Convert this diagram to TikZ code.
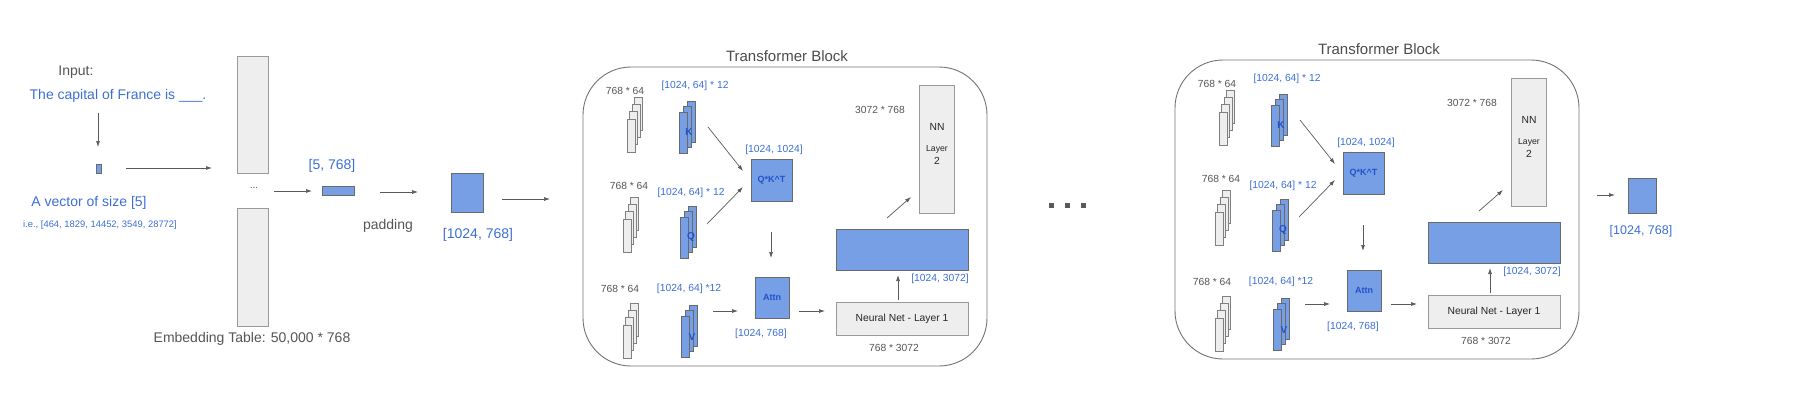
\documentclass[tikz,border=0pt]{standalone}
\usepackage{fontspec}
\setmainfont{Liberation Sans}
\usetikzlibrary{arrows.meta}
\definecolor{boxblue}{HTML}{779FE5}
\definecolor{txtblue}{HTML}{3C6FD6}
\definecolor{darkblue}{HTML}{2152C9}
\definecolor{boxgray}{HTML}{EEEEEE}
\definecolor{edgegray}{HTML}{9A9A9A}
\definecolor{edgedark}{HTML}{6A6A6A}
\definecolor{txtgray}{HTML}{555555}
\definecolor{arrgray}{HTML}{5A5A5A}
\newcommand\fs[1]{\fontsize{#1}{#1}\selectfont}
\tikzset{
 bbox/.style={draw=edgedark, fill=boxblue, line width=0.8pt, inner sep=0pt, outer sep=0pt},
 gbox/.style={draw=edgegray, fill=boxgray, line width=0.8pt, inner sep=0pt, outer sep=0pt},
 sbox/.style={draw=edgedark!85, fill=boxgray, line width=0.8pt, inner sep=0pt, outer sep=0pt},
 arr/.style={draw=arrgray, line width=0.7pt, -{Latex[length=6pt,width=4pt]}},
 tb/.style={text=txtblue, inner sep=0pt},
 tg/.style={text=txtgray, inner sep=0pt},
 tk/.style={text=black!85, inner sep=0pt},
 tdb/.style={text=darkblue, inner sep=0pt, font=\bfseries\fs{9}},
 tlet/.style={text=darkblue, inner sep=0pt, font=\bfseries\fs{10}},
 frame/.style={draw=black!55, line width=0.9pt, rounded corners=48pt, inner sep=0pt, minimum width=404, minimum height=299},
 sq/.style={fill=arrgray, inner sep=0pt, minimum width=5, minimum height=5},
}
% gray stack: name, front-left x, front-top y
\newcommand\gstack[3]{\foreach \j in {3,2,1,0}{\node[sbox, minimum width=8, minimum height=33, anchor=north west] (#1\j) at ({#2+2.6*\j},{#3-7.3*\j}) {};}}
% blue stack
\newcommand\bstack[3]{\foreach \j in {2,1,0}{\node[bbox, minimum width=8, minimum height=41, anchor=north west] (#1\j) at ({#2+4*\j},{#3-5.5*\j}) {};}}
\newcommand\tblock[1]{%
 \node[frame] (#1frame) at (785,216.5) {};
 \node[tg, text=black!70, font=\fs{15}] (#1title) at (787,56) {Transformer Block};
 % K row
 \node[tg,font=\fs{10.3}] (#1kw) at (625,91) {768 * 64};
 \gstack{#1kg}{627}{119}
 \node[tb,font=\fs{10.3}] (#1kd) at (695,86) {[1024, 64] * 12};
 \bstack{#1kb}{679}{112}
 \node[tlet] (#1kl) at (689,132) {K};
 % Q row
 \node[tg,font=\fs{10.3}] (#1qw) at (629,186) {768 * 64};
 \gstack{#1qg}{623}{219}
 \node[tb,font=\fs{10.3}] (#1qd) at (691,193) {[1024, 64] * 12};
 \bstack{#1qb}{680}{217}
 \node[tlet] (#1ql) at (691,237) {Q};
 % V row
 \node[tg,font=\fs{10.3}] (#1vw) at (620,289) {768 * 64};
 \gstack{#1vg}{623}{325}
 \node[tb,font=\fs{10.3}] (#1vd) at (689,289) {[1024, 64] *12};
 \bstack{#1vb}{681}{316}
 \node[tlet] (#1vl) at (692,337) {V};
 % QK^T
 \node[bbox, minimum width=41, minimum height=42] (#1qkt) at (771.5,180) {};
 \node[tdb] (#1qktl) at (771.5,180) {Q*K\textasciicircum T};
 \node[tb,font=\fs{10.3}] (#1qktd) at (774,150) {[1024, 1024]};
 % Attn
 \node[bbox, minimum width=34, minimum height=41] (#1attn) at (772,297.5) {};
 \node[tdb] (#1attnl) at (772,297.5) {Attn};
 \node[tb,font=\fs{10.3}] (#1attnd) at (761,334) {[1024, 768]};
 % NN layer 1
 \node[gbox, minimum width=132, minimum height=33] (#1nn1) at (902,318.5) {};
 \node[tk,font=\fs{10.3}] (#1nn1l) at (902,319) {Neural Net - Layer 1};
 \node[tg,font=\fs{10.3}] (#1nn1d) at (894,348) {768 * 3072};
 % hidden
 \node[bbox, minimum width=132, minimum height=41] (#1hid) at (902,249.5) {};
 \node[tb,font=\fs{10.3}] (#1hidd) at (940,279) {[1024, 3072]};
 % NN layer 2
 \node[gbox, minimum width=35, minimum height=128] (#1nn2) at (936.5,149) {};
 \node[tk,font=\fs{10.3}] (#1nn2a) at (937,127) {NN};
 \node[tk,font=\fs{8.7}] (#1nn2b) at (937,149) {Layer};
 \node[tk,font=\fs{10.3}] (#1nn2c) at (937,161) {2};
 \node[tg,font=\fs{10.3}] (#1nn2d) at (880,110) {3072 * 768};
 % arrows
 \coordinate (#1a1s) at (708,127); \coordinate (#1a1e) at (743,171);
 \coordinate (#1a2s) at (707,224); \coordinate (#1a2e) at (743,187);
 \coordinate (#1a3s) at (771,232); \coordinate (#1a3e) at (771,258);
 \coordinate (#1a4s) at (713,311); \coordinate (#1a4e) at (738,311);
 \coordinate (#1a5s) at (799,311); \coordinate (#1a5e) at (825,311);
 \coordinate (#1a6s) at (898,300); \coordinate (#1a6e) at (898,275);
 \coordinate (#1a7s) at (887,218); \coordinate (#1a7e) at (911,197);
 \draw[arr] (#1a1s) -- (#1a1e);
 \draw[arr] (#1a2s) -- (#1a2e);
 \draw[arr] (#1a3s) -- (#1a3e);
 \draw[arr] (#1a4s) -- (#1a4e);
 \draw[arr] (#1a5s) -- (#1a5e);
 \draw[arr] (#1a6s) -- (#1a6e);
 \draw[arr] (#1a7s) -- (#1a7e);
}
\begin{document}
\begin{tikzpicture}[x=1pt,y=-1pt]
\useasboundingbox (0,0) rectangle (1812,416);
% input part
\node[tg,font=\fs{14}] (inp) at (76,72) {Input:};
\node[tb,font=\fs{14}] (sent) at (118,96) {The capital of France is \_\_\_.};
\coordinate (s1) at (98,113); \coordinate (e1) at (98,147);
\draw[arr] (s1) -- (e1);
\node[bbox, minimum width=5, minimum height=9] (vec) at (98.5,168.5) {};
\node[tb,font=\fs{14}] (vecl) at (89,203) {A vector of size [5]};
\node[tb,font=\fs{9.4}] (vece) at (100,225) {i.e., [464, 1829, 14452, 3549, 28772]};
\coordinate (s2) at (126,168); \coordinate (e2) at (212,168);
\draw[arr] (s2) -- (e2);
% embedding table
\node[gbox, minimum width=31, minimum height=117] (embt) at (252.5,114.5) {};
\node[gbox, minimum width=31, minimum height=118] (embb) at (252.5,267) {};
\node[tg,font=\fs{10}] (embd) at (254,188) {...};
\node[tg,font=\fs{14}] (embl) at (252,339) {Embedding Table: 50,000 * 768};
\coordinate (s3) at (274,191); \coordinate (e3) at (312,191);
\draw[arr] (s3) -- (e3);
\node[tb,font=\fs{14}] (e5l) at (332,166) {[5, 768]};
\node[bbox, minimum width=32, minimum height=9] (e5) at (338,190.5) {};
\coordinate (s4) at (380,192); \coordinate (e4) at (418,192);
\draw[arr] (s4) -- (e4);
\node[tg,font=\fs{14}] (pad) at (388,226) {padding};
\node[bbox, minimum width=32, minimum height=39] (padded) at (467,192.5) {};
\node[tb,font=\fs{14}] (paddedl) at (478,235) {[1024, 768]};
\coordinate (s5) at (502,199); \coordinate (e5e) at (550,199);
\draw[arr] (s5) -- (e5e);
% block 1
\tblock{A}
% dots
\node[sq] (d1) at (1051.5,205.5) {};
\node[sq] (d2) at (1067.5,205.5) {};
\node[sq] (d3) at (1083.5,205.5) {};
% block 2
\begin{scope}[shift={(592,-7)}]
\tblock{B}
\end{scope}
% output
\coordinate (s6) at (1597,195); \coordinate (e6) at (1615,195);
\draw[arr] (s6) -- (e6);
\node[bbox, minimum width=28, minimum height=35] (out) at (1642,195.5) {};
\node[tb,font=\fs{12.5}] (outl) at (1641,231) {[1024, 768]};
\end{tikzpicture}
\end{document}
